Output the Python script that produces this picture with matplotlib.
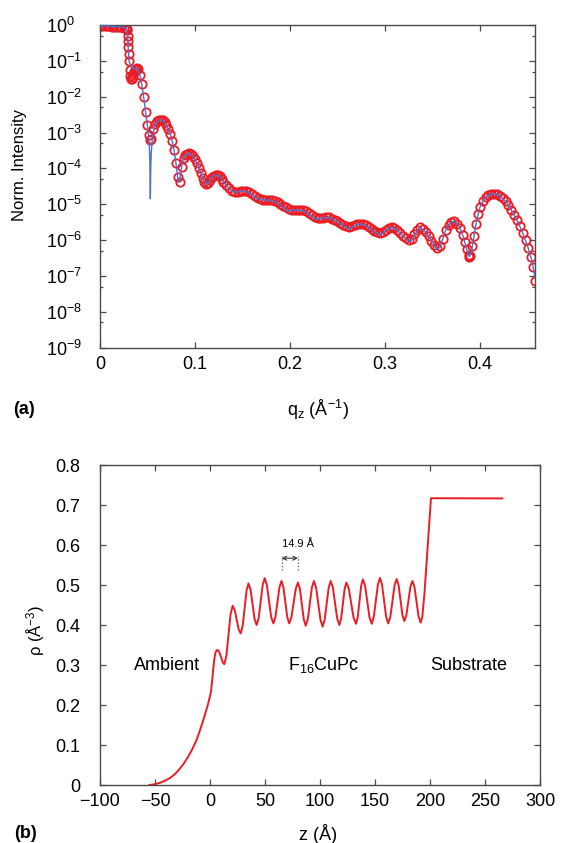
import numpy as np
import matplotlib
matplotlib.use("Agg")
import matplotlib.pyplot as plt
from matplotlib.ticker import FixedLocator, NullFormatter

plt.rcParams['font.family'] = ['Liberation Sans', 'DejaVu Sans']
plt.rcParams['mathtext.fontset'] = 'custom'
plt.rcParams['mathtext.rm'] = 'Liberation Sans'
plt.rcParams['mathtext.it'] = 'Liberation Sans:italic'
plt.rcParams['mathtext.bf'] = 'Liberation Sans:bold'

# ---- (a) measured reflectivity (log10 of normalised intensity) ----
q_meas = [0.0000, 0.0025, 0.0050, 0.0075, 0.0100, 0.0125, 0.0150, 0.0175, 0.0200, 0.0225, 0.0250, 0.0270,
          0.0280, 0.0288, 0.0293, 0.0297, 0.0300, 0.0303, 0.0306, 0.0312, 0.0320, 0.0328, 0.0336, 0.0344,
          0.0352, 0.0360, 0.0370, 0.0380, 0.0390, 0.0400,
          0.042, 0.044, 0.046, 0.048, 0.050, 0.052, 0.053, 0.054, 0.056, 0.058, 0.060, 0.062, 0.064, 0.066,
          0.068, 0.070, 0.072, 0.074, 0.076, 0.078, 0.080, 0.082, 0.084, 0.086, 0.088, 0.090, 0.092, 0.094,
          0.096, 0.098, 0.100, 0.102, 0.104, 0.106, 0.108, 0.110, 0.112, 0.114, 0.116, 0.118, 0.120, 0.122,
          0.124, 0.126, 0.128, 0.130,
          0.133, 0.136, 0.139, 0.142, 0.145, 0.148, 0.151, 0.154, 0.157, 0.160, 0.163, 0.166, 0.169, 0.172,
          0.175, 0.178, 0.181, 0.184, 0.187, 0.190, 0.193, 0.196, 0.199, 0.202, 0.205, 0.208, 0.211, 0.214,
          0.217, 0.220, 0.223, 0.226, 0.229, 0.232, 0.235, 0.238, 0.241, 0.244, 0.247, 0.250, 0.253, 0.256,
          0.259, 0.262, 0.265, 0.268, 0.271, 0.274, 0.277, 0.280, 0.283, 0.286, 0.289, 0.292, 0.295, 0.298,
          0.301, 0.304, 0.307, 0.310, 0.313, 0.316, 0.319, 0.322, 0.325, 0.328, 0.331, 0.334, 0.337, 0.340,
          0.343, 0.346, 0.349, 0.352, 0.355, 0.358, 0.361, 0.364, 0.367, 0.370, 0.373, 0.376, 0.379, 0.382,
          0.384, 0.386, 0.388, 0.389, 0.390, 0.392, 0.394, 0.396, 0.398, 0.400,
          0.403, 0.406, 0.409, 0.412, 0.415, 0.418, 0.421, 0.424, 0.427, 0.430, 0.433, 0.436, 0.439, 0.442,
          0.445, 0.448, 0.451, 0.454, 0.456, 0.458]
logI_meas = [-0.02, -0.03, -0.03, -0.04, -0.04, -0.05, -0.05, -0.05, -0.06, -0.06, -0.07, -0.09,
             -0.10, -0.15, -0.30, -0.45, -0.62, -0.80, -1.00, -1.25, -1.42, -1.50, -1.50, -1.44,
             -1.37, -1.30, -1.25, -1.22, -1.21, -1.23,
             -1.40, -1.66, -2.02, -2.42, -2.78, -3.08, -3.20, -3.18, -2.90, -2.76, -2.69, -2.66, -2.65, -2.66,
             -2.71, -2.80, -2.91, -3.05, -3.24, -3.50, -3.84, -4.25, -4.38, -3.95, -3.72, -3.63, -3.59, -3.58,
             -3.60, -3.66, -3.74, -3.85, -3.98, -4.12, -4.26, -4.38, -4.45, -4.42, -4.32, -4.25, -4.21, -4.19,
             -4.19, -4.22, -4.29, -4.37,
             -4.47, -4.56, -4.62, -4.65, -4.65, -4.63, -4.62, -4.63, -4.66, -4.72, -4.78, -4.83, -4.86, -4.87,
             -4.87, -4.87, -4.89, -4.91, -4.95, -4.99, -5.04, -5.09, -5.13, -5.15, -5.16, -5.16, -5.16, -5.17,
             -5.20, -5.26, -5.31, -5.36, -5.39, -5.39, -5.38, -5.37, -5.37, -5.40, -5.44, -5.48, -5.53, -5.58,
             -5.62, -5.64, -5.62, -5.58, -5.55, -5.54, -5.55, -5.59, -5.64, -5.69, -5.75, -5.79, -5.81, -5.77,
             -5.71, -5.67, -5.65, -5.67, -5.72, -5.80, -5.88, -5.95, -6.01, -5.98, -5.84, -5.71, -5.65, -5.68,
             -5.77, -5.89, -6.02, -6.14, -6.23, -6.18, -5.96, -5.72, -5.58, -5.50, -5.48, -5.54, -5.67, -5.87,
             -6.05, -6.25, -6.42, -6.48, -6.44, -6.18, -5.88, -5.55, -5.28, -5.09,
             -4.92, -4.81, -4.75, -4.72, -4.71, -4.72, -4.76, -4.83, -4.92, -5.03, -5.15, -5.30, -5.45, -5.62,
             -5.80, -6.00, -6.22, -6.48, -6.75, -7.15]

# ---- (a) model fit ----
q_fit = [0.000, 0.010, 0.020, 0.026, 0.0280, 0.0288, 0.0295, 0.0300, 0.0305, 0.0310, 0.0320, 0.0335,
         0.0350, 0.0370, 0.0390, 0.0400, 0.042, 0.044, 0.046, 0.048, 0.050, 0.051, 0.052, 0.0525,
         0.053, 0.0535, 0.054, 0.055, 0.056, 0.058, 0.060, 0.062, 0.064, 0.066, 0.068, 0.070,
         0.072, 0.074, 0.076, 0.078, 0.080, 0.082, 0.083, 0.084, 0.086, 0.088, 0.090, 0.094,
         0.098, 0.102, 0.106, 0.110, 0.112, 0.114, 0.118, 0.122, 0.126, 0.130, 0.136, 0.142,
         0.148, 0.152, 0.158, 0.164, 0.170, 0.176, 0.182, 0.188, 0.194, 0.197, 0.200, 0.206,
         0.212, 0.218, 0.224, 0.228, 0.232, 0.238, 0.244, 0.250, 0.256, 0.262, 0.266, 0.272,
         0.278, 0.284, 0.290, 0.295, 0.300, 0.306, 0.312, 0.318, 0.324, 0.327, 0.331, 0.337,
         0.343, 0.349, 0.355, 0.358, 0.361, 0.364, 0.367, 0.370, 0.373, 0.376, 0.379, 0.382,
         0.385, 0.387, 0.389, 0.391, 0.393, 0.395, 0.397, 0.400, 0.403, 0.406, 0.410, 0.415,
         0.420, 0.425, 0.430, 0.435, 0.440, 0.445, 0.450, 0.455, 0.458]
logI_fit = [-0.02, -0.03, -0.05, -0.07, -0.10, -0.25, -0.55, -0.80, -0.98, -1.05, -1.10, -1.16,
            -1.20, -1.22, -1.22, -1.24, -1.40, -1.66, -2.02, -2.42, -2.82, -3.05, -3.40, -3.80,
            -4.85, -3.90, -3.55, -3.22, -3.02, -2.80, -2.70, -2.66, -2.65, -2.66, -2.71, -2.80,
            -2.91, -3.05, -3.24, -3.50, -3.86, -4.30, -4.38, -4.30, -3.95, -3.72, -3.63, -3.58,
            -3.66, -3.85, -4.12, -4.38, -4.45, -4.42, -4.25, -4.19, -4.22, -4.37, -4.57, -4.67,
            -4.64, -4.63, -4.70, -4.82, -4.88, -4.88, -4.91, -4.98, -5.12, -5.20, -5.18, -5.16,
            -5.17, -5.24, -5.37, -5.43, -5.40, -5.37, -5.40, -5.49, -5.60, -5.70, -5.64, -5.55,
            -5.57, -5.67, -5.80, -5.86, -5.76, -5.65, -5.70, -5.86, -6.02, -6.05, -5.86, -5.65,
            -5.77, -6.02, -6.26, -6.20, -5.96, -5.72, -5.58, -5.50, -5.48, -5.54, -5.67, -5.87,
            -6.15, -6.35, -6.47, -6.32, -6.02, -5.70, -5.40, -5.09, -4.92, -4.81, -4.74, -4.71,
            -4.75, -4.86, -5.03, -5.25, -5.50, -5.80, -6.15, -6.60, -7.05]

# ---- (b) electron density profile ----
z_prof = [-55, -50, -45, -40, -36, -32, -28, -24, -20, -16, -12, -8, -5, -2, 0, 0.8,
          2, 3, 4, 5, 6, 7, 8.5, 10, 11.5, 13, 14.9, 16.8, 18.7, 20.6,
          22.43, 24.25, 26.08, 27.9, 29.68, 31.45, 33.23, 35.0,
          36.85, 38.7, 40.55, 42.4, 44.23, 46.05, 47.88, 49.7,
          51.68, 53.65, 55.63, 57.6, 59.45, 61.3, 63.15, 65.0,
          66.75, 68.5, 70.25, 72.0, 74.0, 76.0, 78.0, 80.0,
          81.75, 83.5, 85.25, 87.0, 88.88, 90.75, 92.63, 94.5,
          96.48, 98.45, 100.43, 102.4, 104.23, 106.05, 107.88, 109.7,
          111.68, 113.65, 115.63, 117.6, 119.2, 120.8, 122.4, 124.0,
          126.18, 128.35, 130.53, 132.7, 134.28, 135.85, 137.43, 139.0,
          141.0, 143.0, 145.0, 147.0, 148.88, 150.75, 152.63, 154.5,
          156.38, 158.25, 160.13, 162.0, 163.93, 165.85, 167.78, 169.7,
          171.45, 173.2, 174.95, 176.7, 178.53, 180.35, 182.18, 184.0,
          185.88, 187.75, 189.63, 191.5, 193, 195, 197, 199, 200.9, 265.8]
rho_prof = [0.0, 0.002, 0.006, 0.012, 0.018, 0.027, 0.039, 0.053, 0.070, 0.090, 0.114, 0.146, 0.172, 0.200, 0.222, 0.232,
            0.262, 0.292, 0.316, 0.331, 0.337, 0.3375, 0.332, 0.320, 0.307, 0.302, 0.323, 0.375, 0.427, 0.448,
            0.438, 0.4135, 0.389, 0.379, 0.397, 0.4415, 0.486, 0.504,
            0.489, 0.452, 0.415, 0.400, 0.417, 0.4585, 0.500, 0.517,
            0.500, 0.4605, 0.420, 0.404, 0.4195, 0.457, 0.4945, 0.510,
            0.4945, 0.457, 0.4195, 0.404, 0.419, 0.455, 0.491, 0.506,
            0.490, 0.452, 0.414, 0.398, 0.414, 0.454, 0.494, 0.510,
            0.493, 0.453, 0.413, 0.396, 0.413, 0.453, 0.493, 0.510,
            0.494, 0.455, 0.416, 0.400, 0.4155, 0.453, 0.4905, 0.506,
            0.491, 0.4545, 0.418, 0.403, 0.419, 0.4585, 0.498, 0.514,
            0.498, 0.4585, 0.419, 0.403, 0.420, 0.4605, 0.501, 0.518,
            0.501, 0.461, 0.4205, 0.404, 0.420, 0.4595, 0.499, 0.515,
            0.4995, 0.4625, 0.425, 0.410, 0.4245, 0.460, 0.4955, 0.510,
            0.495, 0.458, 0.421, 0.406, 0.42, 0.48, 0.56, 0.64, 0.717, 0.7165]

q_ticks = [0, 0.1, 0.2, 0.3, 0.4]
decades = [0, -1, -2, -3, -4, -5, -6, -7, -8, -9]
z_ticks = [-100, -50, 0, 50, 100, 150, 200, 250, 300]
rho_ticks = [0, 0.1, 0.2, 0.3, 0.4, 0.5, 0.6, 0.7, 0.8]

# bilayer period marked on the profile
period = 14.9
period_start = 65.1

RED = '#ec1c24'
BLUE = '#4a72d0'
AXC = '#4a4a4a'

W, H = 561, 843
fig = plt.figure(figsize=(W / 100, H / 100), dpi=100)


def frac_box(x0, y0, x1, y1):
    return [x0 / W, 1 - y1 / H, (x1 - x0) / W, (y1 - y0) / H]


def style_axes(ax):
    for s in ax.spines.values():
        s.set_color(AXC)
        s.set_linewidth(1.0)
    ax.tick_params(which='both', direction='in', top=True, right=True,
                   color=AXC, labelsize=13, width=0.9)
    ax.tick_params(which='major', length=4.5)
    ax.tick_params(which='minor', length=2.5)


# ---------------- panel (a) ----------------
ax1 = fig.add_axes(frac_box(100, 25, 535, 347.5))
ax1.set_yscale('log')
ax1.plot(q_meas, 10 ** np.array(logI_meas), 'o', mfc='none', mec=RED, ms=6.0, mew=1.3, zorder=2)
ax1.plot(q_fit, 10 ** np.array(logI_fit), '-', color=BLUE, lw=1.0, zorder=3)
ax1.set_xlim(0, 0.458)
ax1.set_ylim(1e-9, 1)
style_axes(ax1)
ax1.set_xticks(q_ticks)
ax1.set_xticklabels(['0'] + ['%.1f' % v for v in q_ticks[1:]])
ax1.set_yticks([10.0 ** d for d in decades])
ax1.set_yticklabels([r'$\mathregular{10^{%d}}$' % d for d in decades])
ax1.yaxis.set_minor_locator(FixedLocator([5 * 10.0 ** (d - 1) for d in decades[:-1]]))
ax1.yaxis.set_minor_formatter(NullFormatter())
ax1.tick_params(axis='x', pad=6)
ax1.tick_params(axis='y', pad=39)
for t in ax1.get_yticklabels():
    t.set_horizontalalignment('left')

fig.text(20 / W, 1 - 165 / H, 'Norm. Intensity', rotation=90, ha='center', va='center', fontsize=12)
fig.text(318 / W, 1 - 410 / H, r'q$_\mathregular{z}$ (Å$^{\mathregular{-1}}$)', ha='center', va='center', fontsize=13)
fig.text(13 / W, 1 - 410 / H, '(a)', ha='left', va='center', fontsize=13, fontweight='bold')

# ---------------- panel (b) ----------------
ax2 = fig.add_axes(frac_box(100, 465, 540, 785))
ax2.plot(z_prof, rho_prof, '-', color=RED, lw=1.4)
ax2.set_xlim(-100, 300)
ax2.set_ylim(0, 0.8)
style_axes(ax2)
ax2.set_xticks(z_ticks)
ax2.set_xticklabels(['\u2212%d' % -v if v < 0 else '%d' % v for v in z_ticks])
ax2.set_yticks(rho_ticks)
ax2.set_yticklabels(['0'] + ['%.1f' % v for v in rho_ticks[1:]])
ax2.tick_params(axis='x', pad=6)
ax2.tick_params(axis='y', pad=14)

ax2.text(-38.8, 0.30, 'Ambient', ha='center', va='center', fontsize=13)
ax2.text(103.6, 0.30, r'F$_\mathregular{16}$CuPc', ha='center', va='center', fontsize=13)
ax2.text(200.5, 0.30, 'Substrate', ha='left', va='center', fontsize=13)

ax2.annotate('', xy=(period_start, 0.567), xytext=(period_start + period, 0.567),
             arrowprops=dict(arrowstyle='<->', lw=0.8, color='#333333', shrinkA=0, shrinkB=0,
                             mutation_scale=7))
for zx in (period_start, period_start + period):
    ax2.plot([zx, zx], [0.5375, 0.573], ls=':', lw=0.9, color='#555555')
ax2.text(period_start + period, 0.602, '%.1f Å' % period, ha='center', va='center', fontsize=8)

fig.text(36 / W, 1 - 630 / H, r'ρ (Å$^{\mathregular{-3}}$)', rotation=90, ha='center', va='center', fontsize=12)
fig.text(318 / W, 1 - 834 / H, 'z (Å)', ha='center', va='center', fontsize=13)
fig.text(14 / W, 1 - 834 / H, '(b)', ha='left', va='center', fontsize=13, fontweight='bold')

fig.savefig('out.png', dpi=100)
